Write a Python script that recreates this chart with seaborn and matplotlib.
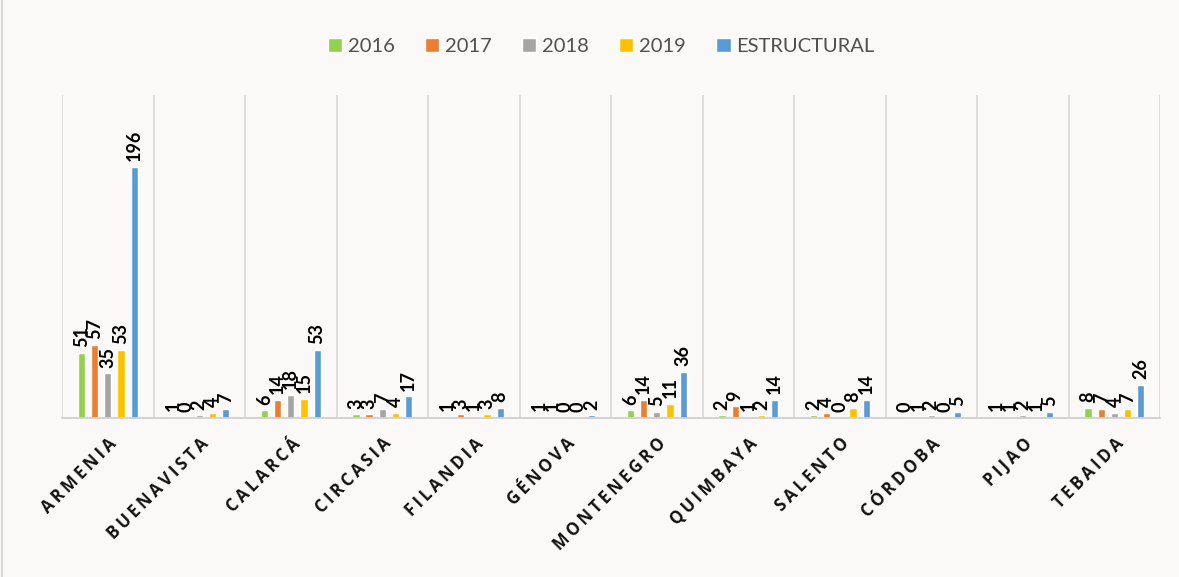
import numpy as np
import pandas as pd
import matplotlib.pyplot as plt
import seaborn as sns

# data
municipios = ["ARMENIA", "BUENAVISTA", "CALARCÁ", "CIRCASIA", "FILANDIA", "GÉNOVA",
              "MONTENEGRO", "QUIMBAYA", "SALENTO", "CÓRDOBA", "PIJAO", "TEBAIDA"]
series = ["2016", "2017", "2018", "2019", "ESTRUCTURAL"]
v2016 = [51, 1, 6, 3, 1, 1, 6, 2, 2, 0, 1, 8]
v2017 = [57, 0, 14, 3, 3, 1, 14, 9, 4, 1, 1, 7]
v2018 = [35, 2, 18, 7, 1, 0, 5, 1, 0, 2, 2, 4]
v2019 = [53, 4, 15, 4, 3, 0, 11, 2, 8, 0, 1, 7]
estructural = [196, 7, 53, 17, 8, 2, 36, 14, 14, 5, 5, 26]
colores = ["#92D050", "#ED7D31", "#A5A5A5", "#FFC000", "#5B9BD5"]

valores = [v2016, v2017, v2018, v2019, estructural]
rows = []
for s, vals in zip(series, valores):
    for m, v in zip(municipios, vals):
        rows.append({"municipio": m, "serie": s, "valor": v})
df = pd.DataFrame(rows)

sns.set_style("white")
plt.rcParams['font.family'] = ['Lato', 'DejaVu Sans']

bg = "#faf9f7"
fig = plt.figure(figsize=(11.79, 5.77), dpi=100, facecolor=bg)
ax = fig.add_axes([0.0526, 0.2756, 0.9314, 0.56])
ax.set_facecolor(bg)

sns.barplot(data=df, x="municipio", y="valor", hue="serie", palette=colores,
            order=municipios, hue_order=series, width=0.72, gap=0.45,
            saturation=1, errorbar=None, ax=ax, legend=True)

for c in ax.containers:
    ax.bar_label(c, rotation=90, padding=4, fontsize=13, fontweight="bold", color="black")

ax.set_ylim(0, 252)
ax.set_xlim(-0.5, len(municipios) - 0.5)
ax.set_yticks([])
ax.set_xlabel("")
ax.set_ylabel("")

# category separators
for i in range(len(municipios) + 1):
    ax.axvline(i - 0.5, color="#d9d9d9", lw=1.3, zorder=0)

for sp in ["top", "left", "right"]:
    ax.spines[sp].set_visible(False)
ax.spines["bottom"].set_color("#d0d0d0")
ax.spines["bottom"].set_linewidth(1.3)

# letter-spaced tick labels
etiquetas = ["\u2009".join(m) for m in municipios]
ax.set_xticks(range(len(municipios)))
ax.set_xticklabels(etiquetas, rotation=45, ha="right", va="top", rotation_mode="anchor",
                   fontsize=12, fontweight="bold", color="#111111",
                   family=["Open Sans", "DejaVu Sans"])
ax.tick_params(axis="x", length=0, pad=12)

handles, labels = ax.get_legend_handles_labels()
ax.legend_.remove()
fig.legend(handles, labels, loc="center", bbox_to_anchor=(0.51, 0.92), ncol=5,
           frameon=False, fontsize=14.5, handlelength=0.7, handleheight=0.7,
           handletextpad=0.3, columnspacing=1.5, labelcolor="#505050")

# outer frame line on the left like the reference
fig.add_artist(plt.Line2D([0.002, 0.002], [0, 1], color="#d9d9d9", lw=1.5))

fig.savefig("out.png", dpi=100, facecolor=bg)
